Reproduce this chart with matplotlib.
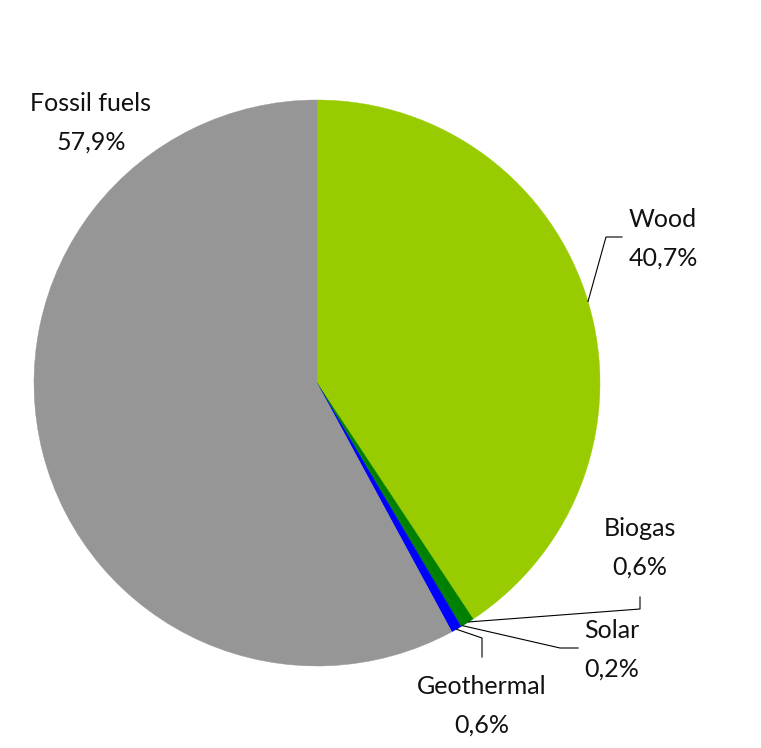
import matplotlib.pyplot as plt
import numpy as np

W, H = 761, 748

sources = ["Wood", "Biogas", "Solar", "Geothermal", "Fossil fuels"]
shares = [40.7, 0.6, 0.2, 0.6, 57.9]
colors = ["#99CC00", "#008000", "#008000", "#0000FF", "#969696"]

# label layout in picture pixels (top-down): name centre, leader elbow points
label_pos = {
    "Wood": (663, 219),
    "Biogas": (640, 528),
    "Solar": (612, 630),
    "Geothermal": (482, 686),
    "Fossil fuels": (91, 103),
}
leaders = {
    "Wood": [(606, 237), (622, 237)],
    "Biogas": [(640, 609), (640, 597)],
    "Solar": [(560, 648), (578, 648)],
    "Geothermal": [(482, 638), (482, 657)],
}

center_px = (317, 383)
radius = 283
line_gap = 39


def px(x, y):
    return x, H - y


plt.rcParams["font.family"] = ["Lato", "DejaVu Sans"]
fig = plt.figure(figsize=(W / 100, H / 100), dpi=100)
ax = fig.add_axes([0, 0, 1, 1])

cx, cy = px(*center_px)
wedges, _ = ax.pie(
    shares,
    colors=colors,
    startangle=90,
    counterclock=False,
    center=(cx, cy),
    radius=radius,
    frame=True,
)
for w, c in zip(wedges, colors):
    w.set_edgecolor(c)
    w.set_linewidth(0.3)
ax.set_xlim(0, W)
ax.set_ylim(0, H)
ax.axis("off")

cum = np.cumsum([0] + shares)
for i, name in enumerate(sources):
    mid = np.deg2rad(90 - (cum[i] + shares[i] / 2) * 3.6)
    start = (cx + radius * np.cos(mid), cy + radius * np.sin(mid))
    if name in leaders:
        pts = [start] + [px(*p) for p in leaders[name]]
        xs, ys = zip(*pts)
        ax.plot(xs, ys, color="black", linewidth=0.8)
    lx, ly = label_pos[name]
    ax.text(*px(lx, ly), name, ha="center", va="center", fontsize=18, color="#111111")
    pct = f"{shares[i]:.1f}%".replace(".", ",")
    ax.text(*px(lx, ly + line_gap), pct, ha="center", va="center", fontsize=18, color="#111111")

fig.savefig("out.png", dpi=100)
